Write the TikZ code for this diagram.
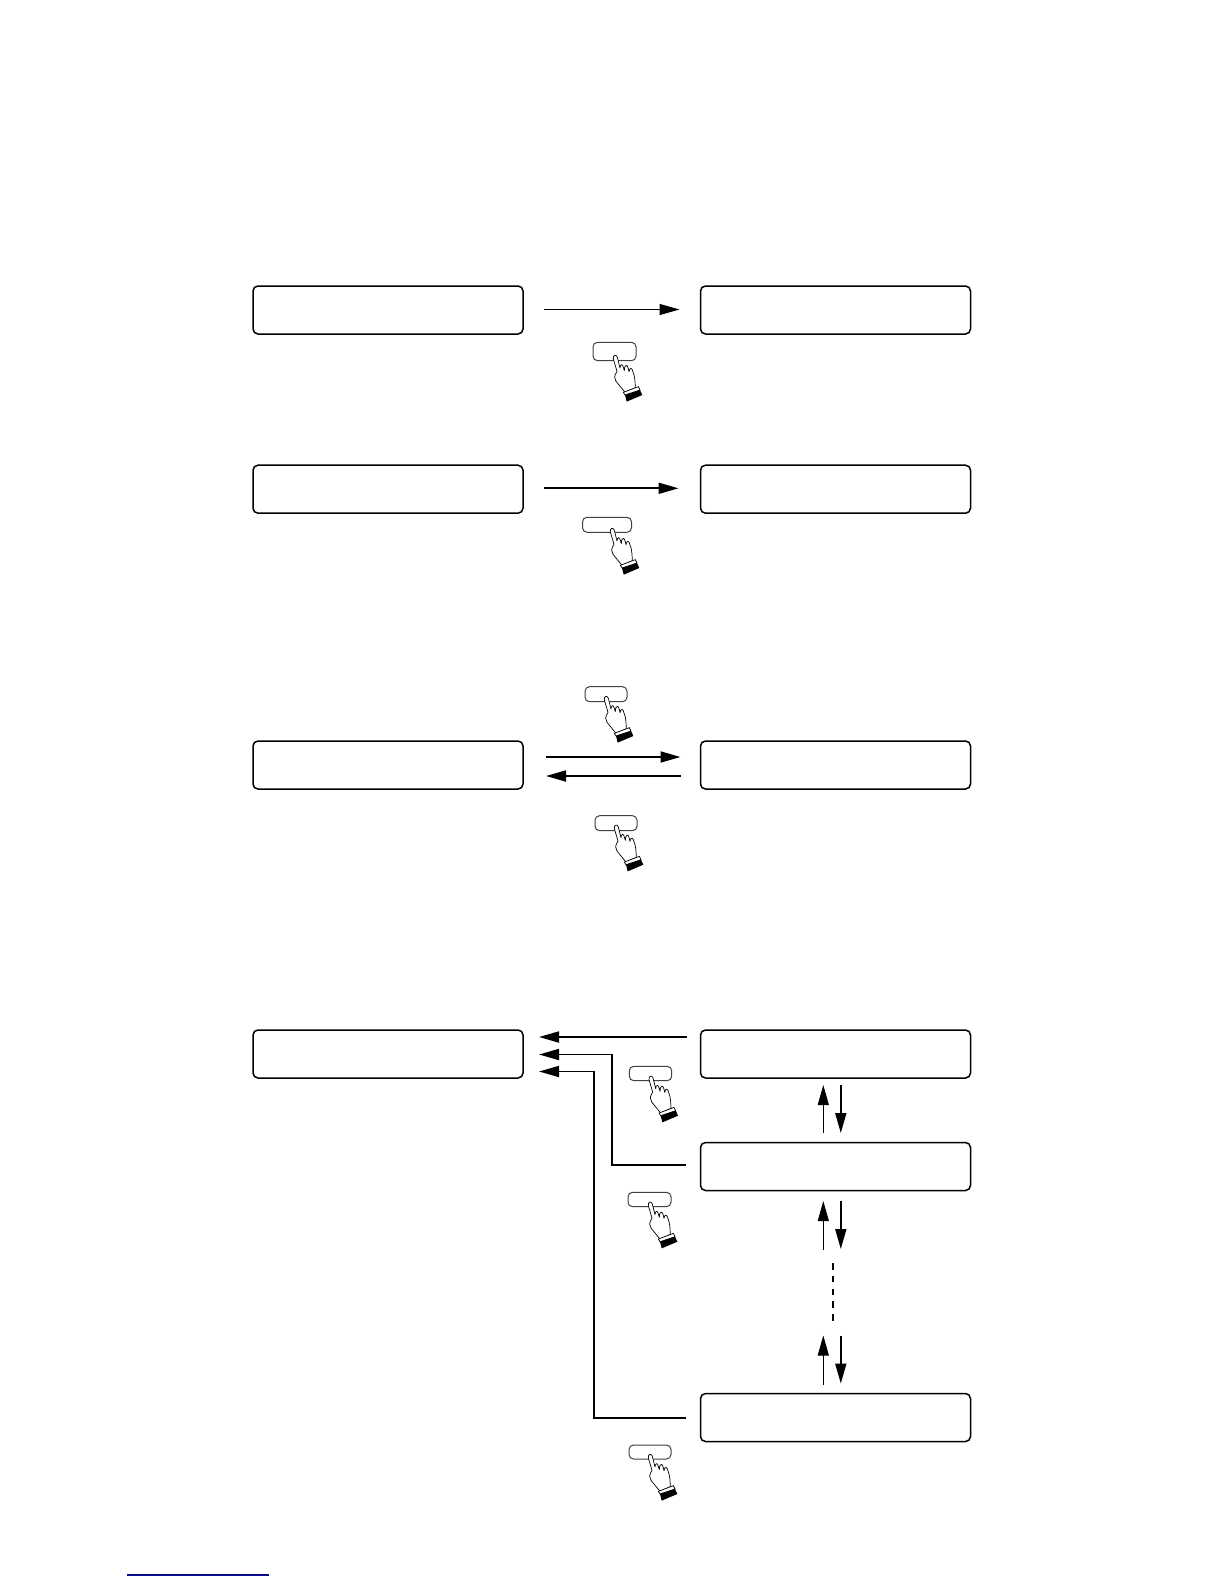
\documentclass[tikz,border=0pt]{standalone}
\usetikzlibrary{arrows.meta,calc}
\tikzset{
  x=1pt,y=-1pt,
  lcd/.style={draw=black,line width=1.5pt,rounded corners=5pt,minimum width=270pt,minimum height=48pt,inner sep=0pt,outer sep=0pt},
  btn/.style={draw=black!75,line width=1pt,rounded corners=4.5pt,inner sep=0pt,outer sep=0pt},
  tipstyle/.style={-{Triangle[length=20pt,width=11pt]}},
  thinarr/.style={tipstyle,line width=1pt},
  medarr/.style={tipstyle,line width=1.8pt},
  handsym/.pic={
    \begin{scope}[scale=1/3]
      \draw[line width=0.7pt,fill=white,line join=round]
        (30,109) -- (3,76) .. controls (-3,68) and (-3,60) .. (6,46)
        -- (-5,9) .. controls (-7,-3) and (4,-6) .. (7,4) -- (15,36)
        .. controls (15,24) and (23,22) .. (25,34) -- (28,44)
        .. controls (28,24) and (38,24) .. (40,38) -- (42,47)
        .. controls (44,32) and (52,36) .. (54,48)
        .. controls (60,62) and (60,76) .. (61,95) -- cycle;
      \draw[line width=0.7pt,fill=white] (25,109) -- (70,92) -- (75,102) -- (30,117) -- cycle;
      \fill[black] (30,117) -- (75,102) -- (82,117) -- (35,137) -- cycle;
    \end{scope}
  }
}
\begin{document}
\begin{tikzpicture}
\useasboundingbox (0,0) rectangle (1224,1584);
% LCD panels
\node[lcd] (a1) at (388,310) {};
\node[lcd] (b1) at (835.5,310) {};
\node[lcd] (a2) at (388,489.2) {};
\node[lcd] (b2) at (835.5,489.2) {};
\node[lcd] (a3) at (388,765) {};
\node[lcd] (b3) at (835.5,765) {};
\node[lcd] (a4) at (388,1054) {};
\node[lcd] (b4) at (835.5,1054) {};
\node[lcd] (c4) at (835.5,1166.5) {};
\node[lcd] (d4) at (835.5,1417.5) {};
% horizontal connectors
\draw[thinarr,shorten <=21pt,shorten >=21pt] ([yshift=0.5pt]a1.east) -- ([yshift=0.5pt]b1.west);
\draw[medarr,shorten <=21pt,shorten >=22pt] ([yshift=0.9pt]a2.east) -- ([yshift=0.9pt]b2.west);
\draw[medarr,shorten <=23pt,shorten >=20pt] ([yshift=8pt]a3.east) -- ([yshift=8pt]b3.west);
\draw[medarr,shorten <=20pt,shorten >=23pt] ([yshift=-11pt]b3.west) -- ([yshift=-11pt]a3.east);
% row 4 connectors
\coordinate (m1) at (612,1054.5);
\coordinate (m2) at (594,1071.5);
\coordinate (cw) at (c4.west |- 0,1164.7);
\coordinate (dw) at (d4.west |- 0,1418);
\draw[medarr,shorten <=14pt,shorten >=16pt] ([yshift=17pt]b4.west) -- ([yshift=17pt]a4.east);
\draw[medarr,shorten <=15pt,shorten >=16pt,line join=miter] (cw) -- (m1 |- cw) -- (m1) -- (a4.east |- m1);
\draw[medarr,shorten <=15pt,shorten >=16pt,line join=miter] (dw) -- (m2 |- dw) -- (m2) -- (a4.east |- m2);
% vertical connectors
\coordinate (u1s) at (823.3,1133.3);
\coordinate (u1e) at (823.3,1085);
\coordinate (d1s) at (840.8,1085);
\coordinate (d1e) at (840.8,1133);
\coordinate (u2s) at (823.3,1249.5);
\coordinate (u2e) at (823.3,1201);
\coordinate (d2s) at (840.8,1201);
\coordinate (d2e) at (840.8,1249);
\coordinate (u3s) at (823.3,1384.5);
\coordinate (u3e) at (823.3,1335.5);
\coordinate (d3s) at (840.8,1335.5);
\coordinate (d3e) at (840.8,1383.5);
\coordinate (das) at (833,1263);
\coordinate (dae) at (833,1326.5);
\draw[thinarr] (u1s) -- (u1e);
\draw[medarr] (d1s) -- (d1e);
\draw[thinarr] (u2s) -- (u2e);
\draw[medarr] (d2s) -- (d2e);
\draw[thinarr] (u3s) -- (u3e);
\draw[medarr] (d3s) -- (d3e);
\draw[line width=2pt,dash pattern=on 6.5pt off 6.25pt] (das) -- (dae);
% buttons
\node[btn,minimum width=43pt,minimum height=18.4pt] (k1) at (614.5,351.5) {};
\node[btn,minimum width=49pt,minimum height=15pt] (k2) at (607,524.8) {};
\node[btn,minimum width=42pt,minimum height=15pt] (k3) at (606,694.2) {};
\node[btn,minimum width=42pt,minimum height=15pt] (k4) at (616,823.2) {};
\node[btn,minimum width=42.4pt,minimum height=14.4pt] (k5) at (650.5,1073.5) {};
\node[btn,minimum width=43pt,minimum height=14.4pt] (k6) at (649.5,1199.5) {};
\node[btn,minimum width=42pt,minimum height=14pt] (k7) at (650,1452) {};
% hands
\pic at (615,356) {handsym};
\pic at (612,529) {handsym};
\pic at (606,697) {handsym};
\pic at (616,825.7) {handsym};
\pic at (650.7,1076.7) {handsym};
\pic at (650,1202.7) {handsym};
\pic at (650,1455) {handsym};
% bottom rule
\coordinate (r1) at (127,1575);
\coordinate (r2) at (269,1575);
\draw[line width=1.3pt,color={rgb,255:red,10;green,10;blue,140}] (r1) -- (r2);
\end{tikzpicture}
\end{document}
